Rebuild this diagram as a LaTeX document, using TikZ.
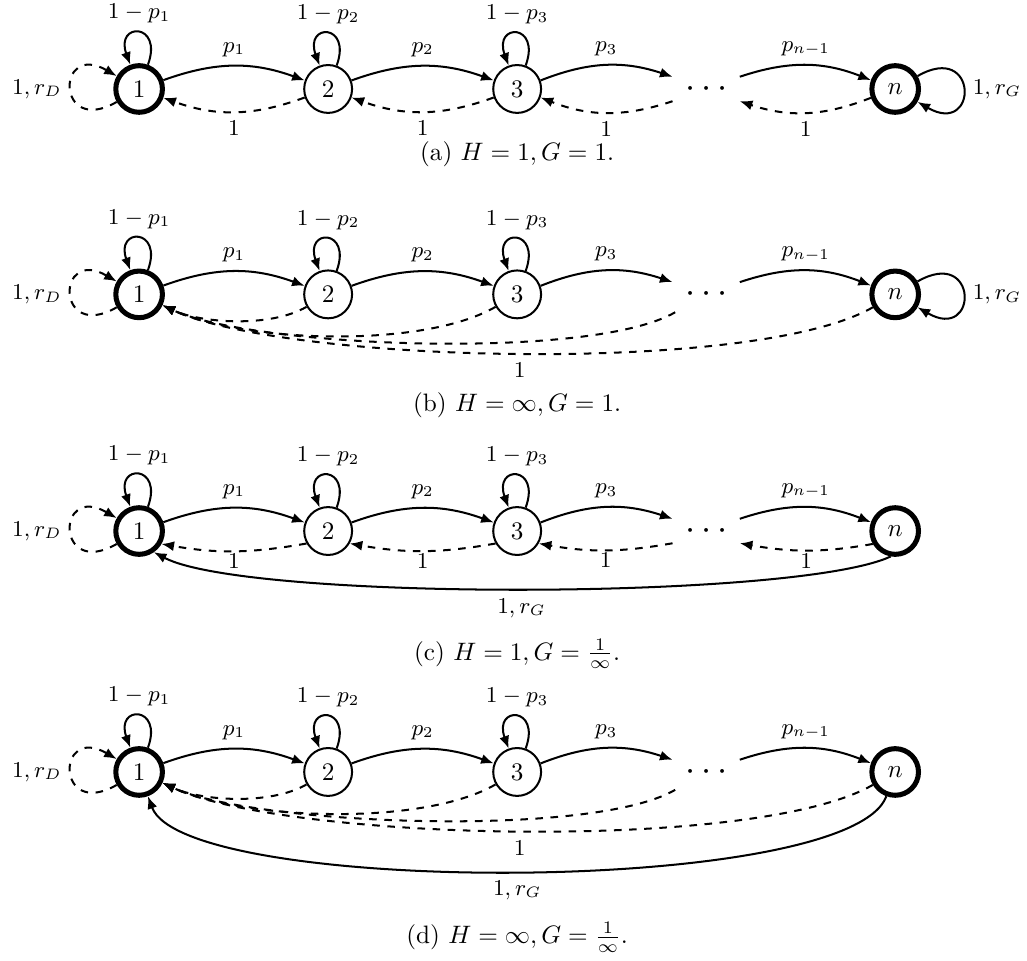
\documentclass[tikz,border=0pt]{standalone}
\usetikzlibrary{arrows.meta, positioning}

\begin{document}
\begin{tikzpicture}[node distance=75pt]
    \tikzstyle{state} = [circle, draw, thick, minimum size=19pt, inner sep=0pt]
    \tikzstyle{accept} = [circle, draw, line width=2pt, minimum size=18.5pt, inner sep=0pt]
    \tikzstyle{dotsnode} = [circle, minimum size=28pt, inner sep=0pt, font=\Large]
    \tikzstyle{arrow} = [thick,->,>={Latex[length=5pt,width=4pt]}]
    \tikzstyle{back} = [arrow, dashed]
    \tikzstyle{lbl} = [font=\small]
    \tikzstyle{toploop} = [loop, out=70, in=110, min distance=18pt]
    \tikzstyle{leftloop} = [loop, out=210, in=150, min distance=28pt]
    \tikzstyle{rightloop} = [loop, out=30, in=-30, min distance=28pt]

    \useasboundingbox (0,0) rectangle (407.5pt,-381.3pt);

    % (a) H = 1, G = 1
    \node (a1) [accept] at (55.2pt,-35.3pt) {$1$};
    \node (a2) [state, right of=a1] {$2$};
    \node (a3) [state, right of=a2] {$3$};
    \node (a4) [dotsnode, right of=a3] {$\cdots$};
    \node (a5) [accept, right of=a4] {$n$};
    \node (capa) [anchor=base] at (205.2pt,-63.5pt) {(a) $H=1, G=1$.};

    % Arrows
    \draw [arrow] (a1) to[toploop] node[lbl, above] {$1-p_1$} (a1);
    \draw [arrow] (a2) to[toploop] node[lbl, above] {$1-p_2$} (a2);
    \draw [arrow] (a3) to[toploop] node[lbl, above] {$1-p_3$} (a3);
    \draw [back] (a1) to[leftloop] node[lbl, left] {$1,r_D$} (a1);
    \draw [arrow] (a5) to[rightloop] node[lbl, right] {$1,r_G$} (a5);
    \draw [arrow] (a1) to[bend left=20] node[lbl, above] {$p_1$} (a2);
    \draw [arrow] (a2) to[bend left=20] node[lbl, above] {$p_2$} (a3);
    \draw [arrow] (a3) to[bend left=20] node[lbl, above] {$p_3$} (a4);
    \draw [arrow] (a4) to[bend left=20] node[lbl, above] {$p_{n-1}$} (a5);
    \draw [back] (a2) to[bend left=20] node[lbl, below] {$1$} (a1);
    \draw [back] (a3) to[bend left=20] node[lbl, below] {$1$} (a2);
    \draw [back] (a4) to[bend left=20] node[lbl, below] {$1$} (a3);
    \draw [back] (a5) to[bend left=20] node[lbl, below] {$1$} (a4);

    % (b) H = infinity, G = 1
    \node (b1) [accept] at (55.2pt,-116.8pt) {$1$};
    \node (b2) [state, right of=b1] {$2$};
    \node (b3) [state, right of=b2] {$3$};
    \node (b4) [dotsnode, right of=b3] {$\cdots$};
    \node (b5) [accept, right of=b4] {$n$};
    \node (capb) [anchor=base] at (205.2pt,-163.1pt) {(b) $H=\infty, G=1$.};

    % Arrows
    \draw [arrow] (b1) to[toploop] node[lbl, above] {$1-p_1$} (b1);
    \draw [arrow] (b2) to[toploop] node[lbl, above] {$1-p_2$} (b2);
    \draw [arrow] (b3) to[toploop] node[lbl, above] {$1-p_3$} (b3);
    \draw [back] (b1) to[leftloop] node[lbl, left] {$1,r_D$} (b1);
    \draw [arrow] (b5) to[rightloop] node[lbl, right] {$1,r_G$} (b5);
    \draw [arrow] (b1) to[bend left=20] node[lbl, above] {$p_1$} (b2);
    \draw [arrow] (b2) to[bend left=20] node[lbl, above] {$p_2$} (b3);
    \draw [arrow] (b3) to[bend left=20] node[lbl, above] {$p_3$} (b4);
    \draw [arrow] (b4) to[bend left=20] node[lbl, above] {$p_{n-1}$} (b5);
    \draw [back] (b2) to[out=210, in=-25, looseness=0.75] (b1);
    \draw [back] (b3) to[out=210, in=-25, looseness=0.66] (b1);
    \draw [back] (b4) to[out=210, in=-25, looseness=0.49] (b1);
    \draw [back] (b5) to[out=210, in=-25, looseness=0.49] node[lbl, below] {$1$} (b1);

    % (c) H = 1, G = 1/infinity
    \node (c1) [accept] at (55.2pt,-210.7pt) {$1$};
    \node (c2) [state, right of=c1] {$2$};
    \node (c3) [state, right of=c2] {$3$};
    \node (c4) [dotsnode, right of=c3] {$\cdots$};
    \node (c5) [accept, right of=c4] {$n$};
    \node (capc) [anchor=base] at (205.2pt,-261.9pt) {(c) $H=1, G=\frac{1}{\infty}$.};

    % Arrows
    \draw [arrow] (c1) to[toploop] node[lbl, above] {$1-p_1$} (c1);
    \draw [arrow] (c2) to[toploop] node[lbl, above] {$1-p_2$} (c2);
    \draw [arrow] (c3) to[toploop] node[lbl, above] {$1-p_3$} (c3);
    \draw [back] (c1) to[leftloop] node[lbl, left] {$1,r_D$} (c1);
    \draw [arrow] (c1) to[bend left=20] node[lbl, above] {$p_1$} (c2);
    \draw [arrow] (c2) to[bend left=20] node[lbl, above] {$p_2$} (c3);
    \draw [arrow] (c3) to[bend left=20] node[lbl, above] {$p_3$} (c4);
    \draw [arrow] (c4) to[bend left=20] node[lbl, above] {$p_{n-1}$} (c5);
    \draw [back] (c2.-150) to[out=190, in=-10] node[lbl, below, inner sep=0.8pt] {$1$} (c1.-30);
    \draw [back] (c3.-150) to[out=190, in=-10] node[lbl, below, inner sep=0.8pt] {$1$} (c2.-30);
    \draw [back] (c4.-160) to[out=190, in=-10] node[lbl, below, inner sep=0.8pt] {$1$} (c3.-30);
    \draw [back] (c5.-150) to[out=190, in=-10] node[lbl, below, inner sep=0.8pt] {$1$} (c4.-20);
    \draw [arrow] (c5.-100) to[out=205, in=-28, looseness=0.36] node[lbl, below] {$1,r_G$} (c1.-55);

    % (d) H = infinity, G = 1/infinity
    \node (d1) [accept] at (55.2pt,-306.3pt) {$1$};
    \node (d2) [state, right of=d1] {$2$};
    \node (d3) [state, right of=d2] {$3$};
    \node (d4) [dotsnode, right of=d3] {$\cdots$};
    \node (d5) [accept, right of=d4] {$n$};
    \node (capd) [anchor=base] at (205.2pt,-374.5pt) {(d) $H=\infty, G=\frac{1}{\infty}$.};

    % Arrows
    \draw [arrow] (d1) to[toploop] node[lbl, above] {$1-p_1$} (d1);
    \draw [arrow] (d2) to[toploop] node[lbl, above] {$1-p_2$} (d2);
    \draw [arrow] (d3) to[toploop] node[lbl, above] {$1-p_3$} (d3);
    \draw [back] (d1) to[leftloop] node[lbl, left] {$1,r_D$} (d1);
    \draw [arrow] (d1) to[bend left=20] node[lbl, above] {$p_1$} (d2);
    \draw [arrow] (d2) to[bend left=20] node[lbl, above] {$p_2$} (d3);
    \draw [arrow] (d3) to[bend left=20] node[lbl, above] {$p_3$} (d4);
    \draw [arrow] (d4) to[bend left=20] node[lbl, above] {$p_{n-1}$} (d5);
    \draw [back] (d2) to[out=210, in=-25, looseness=0.75] (d1);
    \draw [back] (d3) to[out=210, in=-25, looseness=0.66] (d1);
    \draw [back] (d4) to[out=210, in=-25, looseness=0.49] (d1);
    \draw [back] (d5) to[out=210, in=-25, looseness=0.49] node[lbl, below] {$1$} (d1);
    \draw [arrow] (d5) to[out=-110, in=-70, looseness=0.37] node[lbl, below] {$1,r_G$} (d1);
\end{tikzpicture}
\end{document}
